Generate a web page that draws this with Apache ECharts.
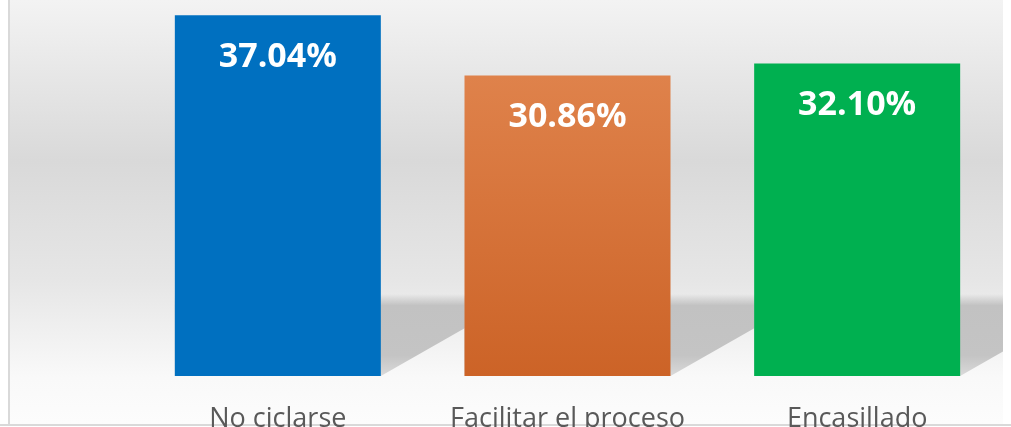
<!DOCTYPE html>
<html>
<head>
<meta charset="utf-8">
<script src="https://cdn.jsdelivr.net/npm/echarts@6/dist/echarts.min.js"></script>
<style>
    html, body {margin: 0; padding: 0; background: #fff;}
    #chart {width: 1011px; height: 427px;}
</style>
</head>
<body>
<div id="chart"></div>
<script>
var categories = ['No ciclarse', 'Facilitar el proceso', 'Encasillado'];
var values = [37.04, 30.86, 32.10];
var barColors = [
    '#0070C0',
    new echarts.graphic.LinearGradient(0, 0, 0, 1, [
        {offset: 0, color: '#DF824B'},
        {offset: 1, color: '#CC6327'}
    ]),
    '#00B050'
];

var barWidth = 206;

// perspective shadow behind each bar (floor effect)
function renderShadow(params, api) {
    var idx = params.dataIndex;
    var base = api.coord([idx, 0]);
    var xl = base[0] - barWidth / 2;
    var xr = base[0] + barWidth / 2;
    var yb = base[1];
    var depth = 82;
    var slope = 0.57;
    var top = yb - depth;
    var reach = xr + depth / slope;
    var wallRight = params.coordSys.x + params.coordSys.width + 1;
    var pts;
    if (reach > wallRight) {
        pts = [[xl, top], [wallRight, top], [wallRight, yb - (wallRight - xr) * slope], [xr, yb], [xl, yb]];
    } else {
        pts = [[xl, top], [reach, top], [xr, yb], [xl, yb]];
    }
    return {
        type: 'polygon',
        shape: {points: pts},
        style: {
            fill: new echarts.graphic.LinearGradient(0, 0, 0, 1, [
                {offset: 0, color: 'rgba(192,192,192,0)'},
                {offset: 0.14, color: '#c2c2c2'},
                {offset: 0.75, color: '#c4c4c4'},
                {offset: 1, color: '#dadada'}
            ])
        }
    };
}

var option = {
    animation: false,
    grid: {left: 133, right: 9, top: 6, bottom: 51, containLabel: false, outerBoundsMode: 'none'},
    graphic: [
        {
            type: 'rect',
            z: -10,
            shape: {x: 10, y: 0, width: 993, height: 424},
            style: {
                fill: new echarts.graphic.LinearGradient(0, 0, 0, 1, [
                    {offset: 0, color: '#f3f3f3'},
                    {offset: 0.38, color: '#d9d9d9'},
                    {offset: 0.66, color: '#e6e6e6'},
                    {offset: 0.89, color: '#f9f9f9'},
                    {offset: 1, color: '#fcfcfc'}
                ])
            }
        },
        {
            type: 'line', z: -5,
            shape: {x1: 9, y1: 0, x2: 9, y2: 425},
            style: {stroke: '#d9d9d9', lineWidth: 2}
        },
        {
            type: 'line', z: -5,
            shape: {x1: 0, y1: 425, x2: 1011, y2: 425},
            style: {stroke: '#d9d9d9', lineWidth: 2}
        }
    ],
    xAxis: {
        type: 'category',
        data: categories,
        axisLine: {show: false},
        axisTick: {show: false},
        axisLabel: {
            interval: 0,
            hideOverlap: false,
            color: '#595959',
            fontSize: 27,
            fontFamily: 'Open Sans',
            margin: 30
        }
    },
    yAxis: {
        type: 'value',
        min: 0,
        max: 38,
        show: false,
        splitLine: {show: false}
    },
    series: [
        {
            type: 'custom',
            z: 1,
            silent: true,
            renderItem: renderShadow,
            data: values
        },
        {
            type: 'bar',
            z: 2,
            barWidth: barWidth,
            data: values.map(function (v, i) {
                return {value: v, itemStyle: {color: barColors[i]}};
            }),
            label: {
                show: true,
                position: 'insideTop',
                distance: 25,
                color: '#fff',
                fontSize: 34,
                fontWeight: 'bold',
                fontFamily: 'Open Sans',
                formatter: function (p) {
                    return p.value.toFixed(2) + '%';
                }
            }
        }
    ]
};

var chart = echarts.init(document.getElementById('chart'));
chart.setOption(option);
</script>
</body>
</html>
